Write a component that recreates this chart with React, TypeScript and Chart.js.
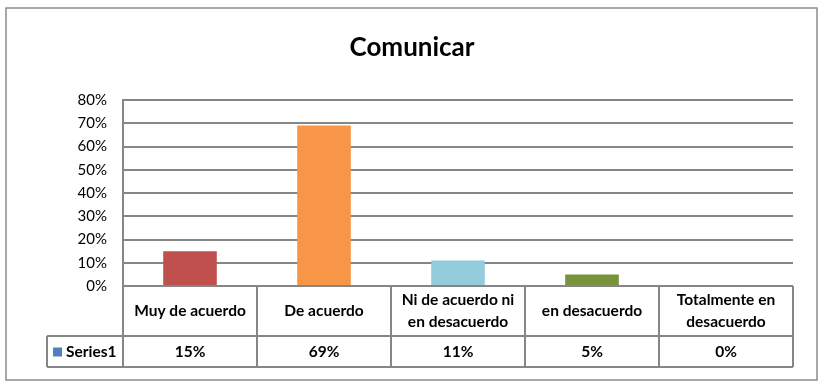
import React, { useEffect, useRef } from "react";
import { Chart, registerables } from "chart.js";

Chart.register(...registerables);

const title = "Comunicar";
const categories = [
  ["Muy de acuerdo"],
  ["De acuerdo"],
  ["Ni de acuerdo ni", "en desacuerdo"],
  ["en desacuerdo"],
  ["Totalmente en", "desacuerdo"],
];
const seriesName = "Series1";
const values = [0.15, 0.69, 0.11, 0.05, 0];
const tableLabels = ["15%", "69%", "11%", "5%", "0%"];
const barColors = ["#C0504D", "#F79646", "#93CDDD", "#77933C", "#4F81BD"];
const legendColor = "#4F81BD";

const FONT = "Lato, 'Open Sans', sans-serif";
const GRID = "#868686";

const tablePlugin = {
  id: "tablePlugin",
  beforeDraw(chart: any) {
    const ctx = chart.ctx;
    ctx.save();
    ctx.fillStyle = "#fff";
    ctx.fillRect(0, 0, chart.width, chart.height);
    ctx.strokeStyle = "#8c8c8c";
    ctx.lineWidth = 1.5;
    ctx.strokeRect(6, 8, 811, 372);
    ctx.fillStyle = "#000";
    ctx.font = `bold 26px ${FONT}`;
    ctx.textAlign = "center";
    ctx.textBaseline = "middle";
    ctx.fillText(title, 412, 48);
    ctx.restore();
  },
  afterDraw(chart: any) {
    const ctx = chart.ctx;
    const xs = chart.scales.x;
    const area = chart.chartArea;
    const n = categories.length;
    const step = (area.right - area.left) / n;
    const top = area.bottom;
    const mid = top + 50;
    const bot = mid + 31;
    const leftCol = 47;
    ctx.save();
    ctx.strokeStyle = GRID;
    ctx.lineWidth = 2;
    ctx.beginPath();
    ctx.moveTo(area.left, top);
    ctx.lineTo(area.right, top);
    ctx.moveTo(leftCol, mid);
    ctx.lineTo(area.right, mid);
    ctx.moveTo(leftCol, bot);
    ctx.lineTo(area.right, bot);
    ctx.moveTo(leftCol, mid);
    ctx.lineTo(leftCol, bot);
    for (let i = 0; i <= n; i++) {
      const x = i < n ? xs.getPixelForValue(i) - step / 2 : xs.getPixelForValue(n - 1) + step / 2;
      ctx.moveTo(x, top);
      ctx.lineTo(x, bot);
    }
    ctx.stroke();

    ctx.fillStyle = "#000";
    ctx.font = `bold 15.5px ${FONT}`;
    ctx.textAlign = "center";
    ctx.textBaseline = "middle";
    for (let i = 0; i < n; i++) {
      const cx = xs.getPixelForValue(i);
      const lines = categories[i];
      const lh = 22;
      const cy = (top + mid) / 2 - ((lines.length - 1) * lh) / 2;
      lines.forEach((l, j) => ctx.fillText(l, cx, cy + j * lh));
      ctx.fillText(tableLabels[i], cx, (mid + bot) / 2);
    }
    ctx.fillStyle = legendColor;
    ctx.fillRect(53, (mid + bot) / 2 - 4, 9, 9);
    ctx.fillStyle = "#000";
    ctx.textAlign = "left";
    ctx.fillText(seriesName, 66, (mid + bot) / 2);
    ctx.restore();
  },
};

export default function App() {
  const ref = useRef<HTMLCanvasElement>(null);
  useEffect(() => {
    const chart = new Chart(ref.current!, {
      type: "bar",
      data: {
        labels: categories.map((c) => c.join(" ")),
        datasets: [
          {
            label: seriesName,
            data: values,
            backgroundColor: barColors,
            categoryPercentage: 1,
            barPercentage: 0.4,
          },
        ],
      },
      options: {
        animation: false,
        responsive: false,
        maintainAspectRatio: false,
        layout: { padding: { top: 100, bottom: 98, right: 32, left: 0 } },
        plugins: { legend: { display: false }, tooltip: { enabled: false }, title: { display: false } },
        scales: {
          x: { display: false },
          y: {
            min: 0,
            max: 0.8,
            afterFit: (s: any) => {
              s.width = 123;
            },
            ticks: {
              stepSize: 0.1,
              padding: 16,
              color: "#000",
              font: { family: FONT, size: 15 },
              callback: (v: any) => Math.round(Number(v) * 100) + "%",
            },
            grid: { color: GRID, lineWidth: 2, drawTicks: false },
            border: { color: GRID, width: 2 },
          },
        },
      },
      plugins: [tablePlugin],
    });
    return () => chart.destroy();
  }, []);
  return (
    <div style={{ position: "fixed", left: 0, top: 0, width: 825, height: 384, background: "#fff" }}>
      <canvas ref={ref} width={825} height={384} style={{ width: 825, height: 384 }} />
    </div>
  );
}
